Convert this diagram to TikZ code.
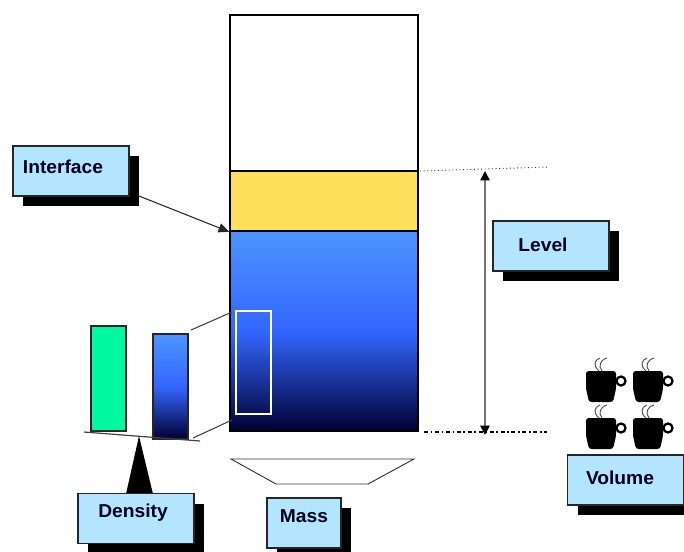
\documentclass[tikz,border=0pt]{standalone}
\usepackage{fontspec}
\setmainfont{Liberation Sans}
\definecolor{boxblue}{HTML}{B3E5FF}
\definecolor{oilyellow}{HTML}{FFE05C}
\definecolor{refgreen}{HTML}{00F9A0}
\definecolor{liquidtop}{HTML}{4D94FF}
\definecolor{liquidmid}{HTML}{3366FF}
\definecolor{liquidlow}{HTML}{000033}
\usetikzlibrary{arrows.meta, positioning, shadows}
\tikzset{
  labelbox/.style={draw=black!85, line width=1.3pt, fill=boxblue, inner sep=0pt,
    minimum height=37.5pt, drop shadow={shadow xshift=7.5pt, shadow yshift=-7.5pt, opacity=1, fill=black}},
  labeltext/.style={font=\fontsize{14}{16}\selectfont\bfseries, text=black!90!blue, inner sep=0pt, transform shape, xscale=1.03},
  tankpart/.style={draw=black, line width=1.2pt, inner sep=0pt, minimum width=141pt},
  barpart/.style={draw=black!85, line width=1.2pt, inner sep=0pt, minimum width=26.25pt, minimum height=78.75pt},
  liquid/.style={top color=liquidtop, bottom color=liquidlow, middle color=liquidmid},
  cup/.pic={
    \draw[black, line width=1.7pt] (33,10) circle (4.5);
    \fill[black, rounded corners=2pt] (-2,0) -- (28,0) -- (28,18) -- (25,31) -- (1,31) -- (-2,18) -- cycle;
    \draw[black!70, line width=0.7pt] (11,0) .. controls (5,-5) and (6,-11) .. (12,-13);
    \draw[black!70, line width=0.7pt] (14,0) .. controls (10,-5) and (12,-11) .. (19,-13);
  }
}
\begin{document}
\begin{tikzpicture}[x=0.75pt, y=-0.75pt]
  \useasboundingbox (0,0) rectangle (684,551);
  % Tank
  \node[tankpart, fill=white, minimum height=117pt] (tankempty) at (324,93) {};
  \node[tankpart, fill=oilyellow, minimum height=45pt] (tankoil) at (324,201) {};
  \node[tankpart, liquid, minimum height=150pt] (tankliquid) at (324,331) {};
  % Sample taken from the liquid
  \node[draw=white, line width=1pt, inner sep=0pt, minimum width=26.25pt, minimum height=77.25pt] (sample) at (253.5,362.5) {};
  % Balance
  \node[barpart, fill=refgreen] (refbar) at (108.5,378.5) {};
  \node[barpart, liquid] (samplebar) at (170.5,386.5) {};
  \coordinate (beamleft) at (84,432);
  \coordinate (beamright) at (200,441);
  \draw[black!75, line width=0.9pt] (beamleft) -- (beamright);
  \coordinate (zoomtop) at (191,330);
  \coordinate (zoomlow) at (193,438);
  \coordinate (tanktop) at (232,312);
  \coordinate (tanklow) at (232,420);
  \draw[black!75, line width=0.8pt] (zoomtop) -- (tanktop);
  \draw[black!75, line width=0.8pt] (zoomlow) -- (tanklow);
  \fill[black] (139,436) -- (153,494) -- (126,494) -- cycle;
  % Weighing pan
  \draw[black!80, fill=white, line width=0.7pt] (231,459) -- (414,459) -- (368,484) -- (276,484) -- cycle;
  % Level marks
  \coordinate (dottedstart) at (420,171);
  \coordinate (dottedend) at (548,167);
  \coordinate (dashstart) at (424,432);
  \coordinate (dashend) at (547,432);
  \coordinate (leveltop) at (485,171);
  \coordinate (levellow) at (485,435);
  \draw[black!80, line width=0.7pt, dotted] (dottedstart) -- (dottedend);
  \draw[black, line width=1.2pt, dash dot] (dashstart) -- (dashend);
  \draw[{Stealth[length=7pt, width=7pt, inset=0pt, black]}-{Stealth[length=7pt, width=7pt, inset=0pt, black]}, black!55, line width=1.3pt] (leveltop) -- (levellow);
  % Cups
  \foreach \cx in {588,635}
    \foreach \cy in {371,418}
      \pic at (\cx,\cy) {cup};
  % Labels
  \node[labelbox, minimum width=87pt] (interface) at (71,171) {};
  \node[labeltext] (interfacetext) at (63,167) {Interface};
  \node[labelbox, minimum width=87pt] (level) at (551,246) {};
  \node[labeltext] (leveltext) at (543,245) {Level};
  \node[labelbox, minimum width=87pt] (density) at (136,518.5) {};
  \node[labeltext] (densitytext) at (133,512.5) {Density};
  \node[labelbox, minimum width=55.5pt] (mass) at (304,523) {};
  \node[labeltext] (masstext) at (304,516) {Mass};
  \node[labelbox, minimum width=87pt] (volume) at (625.5,480) {};
  \node[labeltext] (volumetext) at (620,478) {Volume};
  % Interface arrow
  \coordinate (interfacefoot) at (139,196);
  \draw[-{Stealth[length=8pt, width=7pt, inset=0pt]}, black!85, line width=0.8pt] (interfacefoot) -- (tankoil.south west);
\end{tikzpicture}
\end{document}
